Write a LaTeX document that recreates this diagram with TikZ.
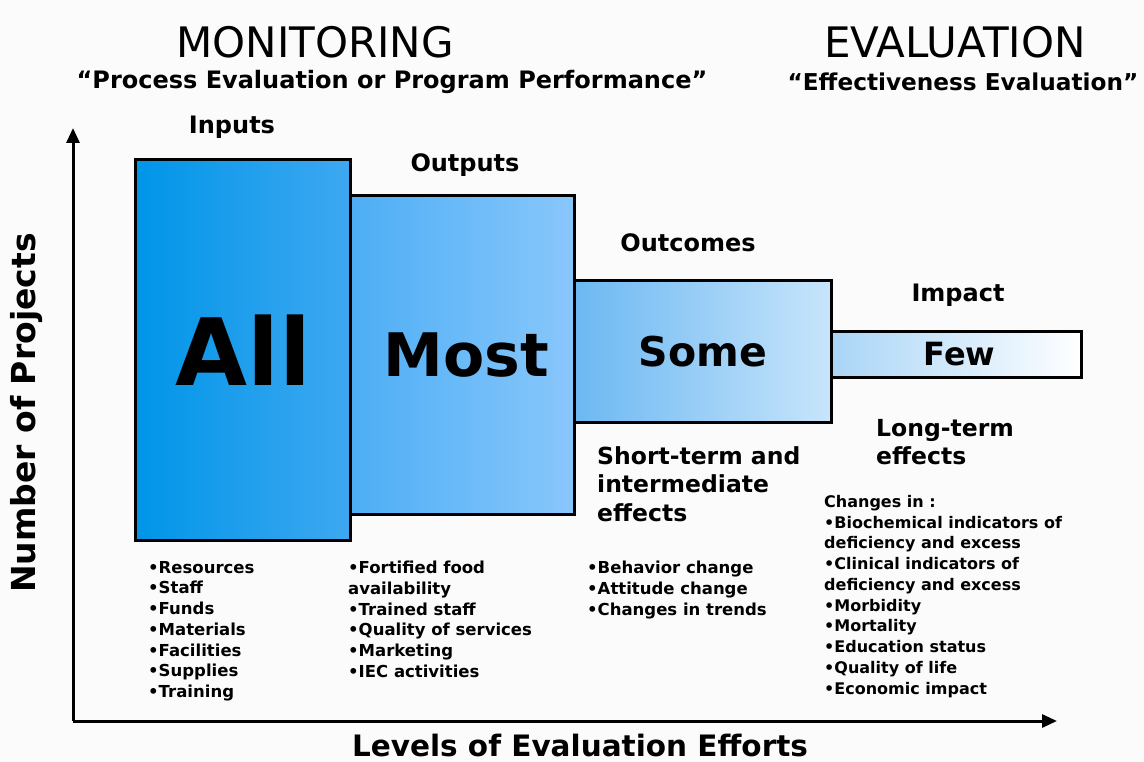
\documentclass[tikz,border=0pt]{standalone}
\usepackage{fontspec}
\setmainfont{DejaVu Sans}
\usepackage{xcolor}
\usetikzlibrary{arrows.meta,positioning}
\definecolor{PageGrey}{HTML}{FBFBFB}
\definecolor{AllLeft}{HTML}{0095E8}
\definecolor{AllRight}{HTML}{3EA8F1}
\definecolor{MostLeft}{HTML}{4DAEF5}
\definecolor{MostRight}{HTML}{89C7FB}
\definecolor{SomeLeft}{HTML}{6CB8F2}
\definecolor{SomeRight}{HTML}{C8E5FB}
\definecolor{FewLeft}{HTML}{A9D5F7}
\definecolor{FewRight}{HTML}{FFFFFF}
\begin{document}
\begin{tikzpicture}[x=1pt, y=-1pt,
	BoxStyle/.style={draw, line width=3pt, anchor=north west, inner sep=0pt, outer sep=0pt},
	HeadStyle/.style={font=\fontsize{42}{42}\selectfont},
	SubStyle/.style={font=\bfseries\fontsize{24}{24}\selectfont},
	LabelStyle/.style={font=\bfseries\fontsize{24}{24}\selectfont},
	ListStyle/.style={anchor=north west, align=left, inner sep=0pt, font=\bfseries\fontsize{16.5}{20.75}\selectfont},
	EffectStyle/.style={anchor=north west, align=left, inner sep=0pt, font=\bfseries\fontsize{23.5}{28.5}\selectfont},
	AxisStyle/.style={line width=3pt, -{Triangle[length=15pt, width=13pt]}},
	AxisLabel/.style={font=\bfseries\fontsize{33}{33}\selectfont}]
	\useasboundingbox[fill=PageGrey] (0,0) rectangle (1144,762);
	% headings
	\node[HeadStyle] (monitoring) at (315,42) {MONITORING};
	\node[SubStyle] (process) at (392,82) {“Process Evaluation or Program Performance”};
	\node[HeadStyle] (evaluation) at (955,42) {EVALUATION};
	\node[SubStyle, font=\bfseries\fontsize{23.2}{23.2}\selectfont] (effective) at (963,82) {“Effectiveness Evaluation”};
	% boxes
	\node[BoxStyle, minimum width=215pt, minimum height=381pt, left color=AllLeft, right color=AllRight, font=\bfseries\fontsize{93}{93}\selectfont] (all) at (135.5,159.5) {All};
	\node[BoxStyle, minimum width=224pt, minimum height=318pt, left color=MostLeft, right color=MostRight, font=\bfseries\fontsize{60}{60}\selectfont] (most) at (350.5,196) {\hspace*{8pt}Most};
	\node[BoxStyle, minimum width=257pt, minimum height=141pt, left color=SomeLeft, right color=SomeRight, font=\bfseries\fontsize{41}{41}\selectfont] (some) at (574.5,281) {Some};
	\node[BoxStyle, minimum width=250pt, minimum height=46pt, left color=FewLeft, right color=FewRight, font=\bfseries\fontsize{32}{32}\selectfont] (few) at (831.5,331) {\hspace*{6pt}Few};
	% labels above
	\node[LabelStyle] (inputs) at (232,127) {Inputs};
	\node[LabelStyle] (outputs) at (465,165) {Outputs};
	\node[LabelStyle] (outcomes) at (688,243) {Outcomes};
	\node[LabelStyle] (impact) at (958,295) {Impact};
	% effects
	\node[EffectStyle] (shortterm) at (597,446) {Short-term and\\intermediate\\effects};
	\node[EffectStyle] (longterm) at (876,419) {Long-term\\effects};
	% lists
	\node[ListStyle] (inlist) at (148,561) {•Resources\\•Staff\\•Funds\\•Materials\\•Facilities\\•Supplies\\•Training};
	\node[ListStyle] (outlist) at (348,561) {•Fortified food\\availability\\•Trained staff\\•Quality of services\\•Marketing\\•IEC activities};
	\node[ListStyle] (outclist) at (587,561) {•Behavior change\\•Attitude change\\•Changes in trends};
	\node[ListStyle, font=\bfseries\fontsize{16}{20.75}\selectfont] (implist) at (824,495) {Changes in :\\•Biochemical indicators of\\deficiency and excess\\•Clinical indicators of\\deficiency and excess\\•Morbidity\\•Mortality\\•Education status\\•Quality of life\\•Economic impact};
	% axes
	\coordinate (origin) at (73,721);
	\coordinate (ytip) at (73,128);
	\coordinate (xtip) at (1057,721);
	\draw[AxisStyle] (origin) -- (ytip);
	\draw[AxisStyle] (origin) -- (xtip);
	\node[AxisLabel, rotate=90] (ylabel) at (27,413) {Number of Projects};
	\node[AxisLabel, font=\bfseries\fontsize{29.5}{29.5}\selectfont] (xlabel) at (580,745) {Levels of Evaluation Efforts};
\end{tikzpicture}
\end{document}
